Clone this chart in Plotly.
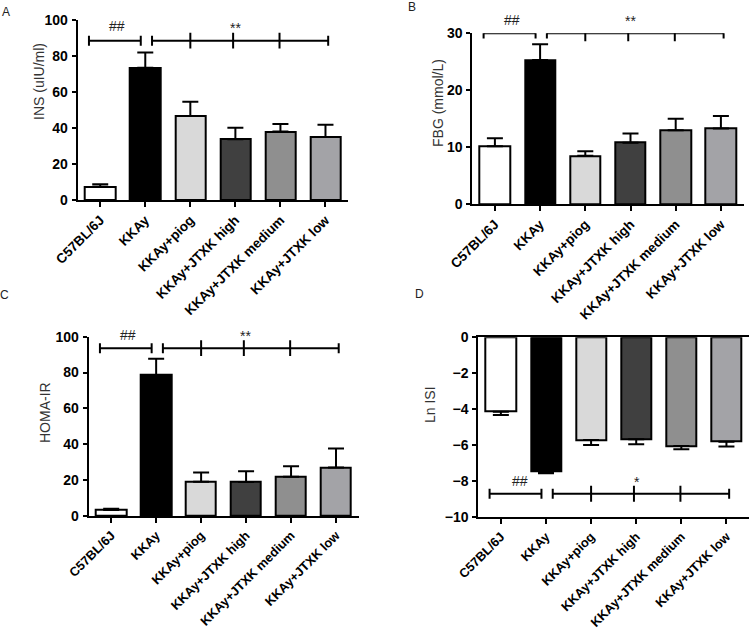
import plotly.graph_objects as go

# ---------------- data ----------------
CATS = ["C57BL/6J", "KKAy", "KKAy+piog", "KKAy+JTXK high", "KKAy+JTXK medium", "KKAy+JTXK low"]

INS_MEAN = [7.3, 73.5, 46.7, 33.7, 38.0, 35.0]
INS_ERR = [1.4, 8.4, 7.9, 6.5, 4.2, 6.8]

FBG_MEAN = [10.2, 25.3, 8.5, 10.8, 13.0, 13.3]
FBG_ERR = [1.4, 2.8, 0.8, 1.6, 2.0, 2.2]

HOMA_MEAN = [3.3, 78.6, 19.1, 19.0, 21.9, 27.0]
HOMA_ERR = [0.8, 9.1, 5.1, 5.9, 5.8, 10.7]

LNISI_MEAN = [-4.13, -7.46, -5.70, -5.67, -6.04, -5.80]
LNISI_ERR = [0.18, 0.09, 0.28, 0.27, 0.18, 0.27]

# ---------------- style ----------------
BAR_COLORS = ["#ffffff", "#000000", "#d9d9d9", "#404040", "#8f8f8f", "#a3a3a7"]
FONT = "Liberation Sans, Arial, sans-serif"
W, H = 749, 629

fig = go.Figure()
idx = list(range(len(CATS)))

panels = [
    # (axis suffix, mean, err, direction)
    ("", INS_MEAN, INS_ERR, 1),
    ("2", FBG_MEAN, FBG_ERR, 1),
    ("3", HOMA_MEAN, HOMA_ERR, 1),
    ("4", LNISI_MEAN, LNISI_ERR, -1),
]

for sfx, mean, err, d in panels:
    zeros = [0] * len(err)
    fig.add_trace(go.Bar(
        x=idx, y=mean, width=0.67,
        marker=dict(color=BAR_COLORS, line=dict(color="black", width=2)),
        error_y=dict(type="data", symmetric=False,
                     array=err if d > 0 else zeros,
                     arrayminus=zeros if d > 0 else err,
                     color="black", thickness=2, width=8),
        xaxis="x" + sfx, yaxis="y" + sfx, showlegend=False, hoverinfo="skip",
    ))

# significance brackets: (axis suffix, y level, end-cap half height, tick half height)
brackets = [
    ("", 88.5, 2.8, 4.4),
    ("2", 30.0, 0.9, 1.4),
    ("3", 93.6, 2.8, 4.4),
    ("4", -8.69, 0.28, 0.44),
]
for sfx, yb, hc, ht in brackets:
    xs, ys = [], []
    def seg(x0, y0, x1, y1):
        xs.extend([x0, x1, None]); ys.extend([y0, y1, None])
    seg(-0.25, yb, 0.9, yb)
    seg(-0.25, yb - hc, -0.25, yb + hc)
    seg(0.9, yb - hc, 0.9, yb + hc)
    seg(1.15, yb, 5.06, yb)
    seg(1.15, yb - hc, 1.15, yb + hc)
    seg(5.06, yb - hc, 5.06, yb + hc)
    for xt in (2.0, 2.95, 3.98):
        seg(xt, yb - ht, xt, yb + ht)
    fig.add_trace(go.Scatter(x=xs, y=ys, mode="lines", line=dict(color="black", width=2),
                             xaxis="x" + sfx, yaxis="y" + sfx, showlegend=False,
                             hoverinfo="skip", cliponaxis=False))

annotations = []
# significance labels: x in category units, y in figure pixels from top
sig = [
    ("", 0.38, 26, "##"), ("", 3.0, 28, "**"),
    ("2", 0.38, 19.5, "##"), ("2", 3.0, 21, "**"),
    ("3", 0.38, 335, "##"), ("3", 2.98, 336, "**"),
    ("4", 0.42, 481, "##"), ("4", 3.02, 482, "*"),
]
for sfx, x, py, t in sig:
    annotations.append(dict(x=x, y=1 - py / H, xref="x" + sfx, yref="paper", text=t,
                            showarrow=False,
                            font=dict(size=14, color="#222", family=FONT),
                            xanchor="center", yanchor="middle"))

titles = [
    (39, 82, "INS (uIU/ml)"),
    (438, 103, "FBG (mmol/L)"),
    (45, 413, "HOMA-IR"),
    (430, 405, "Ln ISI"),
]
for px, py, t in titles:
    annotations.append(dict(x=px / W, y=1 - py / H, xref="paper", yref="paper", text=t,
                            showarrow=False, textangle=-90,
                            font=dict(size=14, color="#333", family=FONT),
                            xanchor="center", yanchor="middle"))
letters = [(6, 12, "A"), (412, 7, "B"), (4, 295, "C"), (419, 294, "D")]
for px, py, t in letters:
    annotations.append(dict(x=px / W, y=1 - py / H, xref="paper", yref="paper", text=t,
                            showarrow=False, font=dict(size=12, color="#222", family=FONT),
                            xanchor="center", yanchor="middle"))

def xax(domain, anchor, fs, mirror=False):
    return dict(domain=domain, anchor=anchor, range=[-0.5, 5.5], tickmode="array",
                tickvals=idx, ticktext=CATS, tickangle=-45, automargin=False,
                tickfont=dict(size=fs, color="black", family=FONT, weight="bold"),
                showline=True, linecolor="black", linewidth=2, mirror=mirror,
                ticks="outside", ticklen=5, tickwidth=2, tickcolor="black",
                showgrid=False, zeroline=False, fixedrange=True)

def yax(domain, anchor, rng, dtick):
    return dict(domain=domain, anchor=anchor, range=rng, dtick=dtick, automargin=False,
                tickfont=dict(size=14, color="black", family=FONT, weight="bold"),
                showline=True, linecolor="black", linewidth=2,
                ticks="outside", ticklen=4, tickwidth=2, tickcolor="black",
                ticklabelstandoff=1,
                showgrid=False, zeroline=False, fixedrange=True)

def dx(a, b):
    return [a / W, min(b / W, 1.0)]

def dy(bottom, top):
    return [1 - bottom / H, 1 - top / H]

fig.update_layout(
    width=W, height=H, margin=dict(l=0, r=0, t=0, b=0, autoexpand=False),
    paper_bgcolor="white", plot_bgcolor="white",
    font=dict(family=FONT, color="black"),
    bargap=0,
    xaxis=xax(dx(77.7, 348), "y", 13.5),
    yaxis=yax(dy(200, 20), "x", [0, 100], 20),
    xaxis2=xax(dx(472.3, 743.5), "y2", 13.5),
    yaxis2=yax(dy(204.3, 33.3), "x2", [0, 30], 10),
    xaxis3=xax(dx(88.7, 358.5), "y3", 12.8),
    yaxis3=yax(dy(516, 336.7), "x3", [0, 100], 20),
    xaxis4=xax(dx(478.3, 749), "y4", 12.8, mirror=True),
    yaxis4=yax(dy(517.3, 337.3), "x4", [-10, 0], 2),
    annotations=annotations,
)

fig.write_html(
    "out.html",
    config={"displayModeBar": False},
    post_script="document.body.style.margin='0';document.body.style.padding='0';",
)
